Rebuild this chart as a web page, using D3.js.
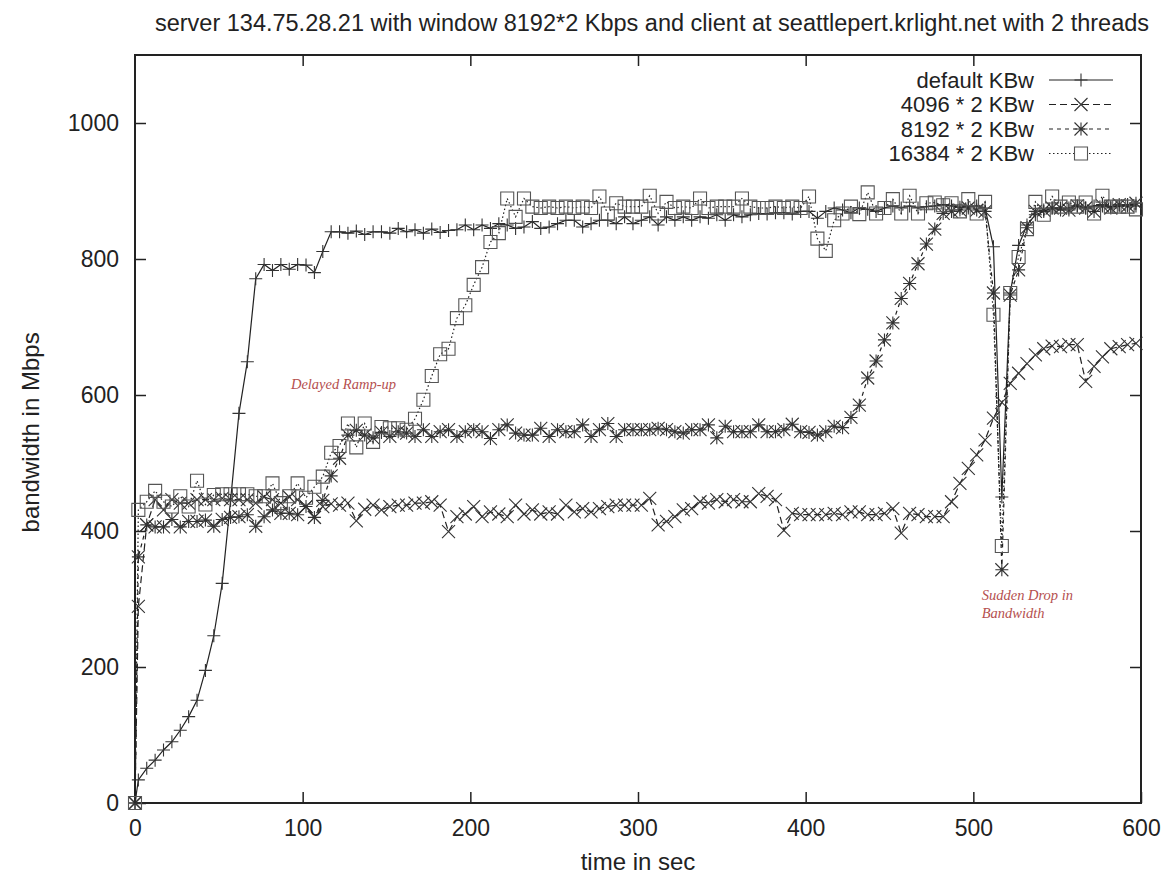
<!DOCTYPE html>
<html>
<head>
<meta charset="utf-8">
<script src="https://cdn.jsdelivr.net/npm/d3@7"></script>
<style>
  body { margin: 0; background: #fff; }
  svg { display: block; font-family: "Liberation Sans", Arial, sans-serif; }
</style>
</head>
<body>
<div id="chart"></div>
<script>
const width = 1174, height = 876;
const margins = { top: 55, right: 33, bottom: 73, left: 135 };

// sample times (sec)
const times = [0,
  2, 7, 12, 17, 22, 27, 32, 37, 42, 47,
  52, 57, 62, 67, 72, 77, 82, 87, 92, 97,
  102, 107, 112, 117, 122, 127, 132, 137, 142, 147,
  152, 157, 162, 167, 172, 177, 182, 187, 192, 197,
  202, 207, 212, 217, 222, 227, 232, 237, 242, 247,
  252, 257, 262, 267, 272, 277, 282, 287, 292, 297,
  302, 307, 312, 317, 322, 327, 332, 337, 342, 347,
  352, 357, 362, 367, 372, 377, 382, 387, 392, 397,
  402, 407, 412, 417, 422, 427, 432, 437, 442, 447,
  452, 457, 462, 467, 472, 477, 482, 487, 492, 497,
  502, 507, 512, 517, 522, 527, 532, 537, 542, 547,
  552, 557, 562, 567, 572, 577, 582, 587, 592, 597];

const defaultKBw = [0,
  34, 51, 63, 78, 90, 107, 127, 151, 195, 246,
  323, 445, 573, 649, 771, 792, 783, 792, 785, 792,
  791, 780, 811, 840, 840, 838, 841, 836, 840, 840,
  838, 845, 840, 843, 838, 844, 839, 842, 843, 850,
  843, 850, 845, 852, 850, 845, 847, 855, 845, 847,
  852, 857, 857, 847, 852, 857, 857, 852, 862, 852,
  857, 862, 850, 862, 857, 862, 857, 862, 860, 865,
  857, 865, 862, 865, 867, 866, 868, 868, 866, 870,
  870, 860, 870, 875, 872, 868, 875, 873, 870, 875,
  878, 875, 878, 875, 877, 878, 880, 878, 876, 878,
  878, 875, 818, 450, 750, 820, 850, 865, 870, 875,
  872, 875, 878, 875, 878, 880, 877, 878, 880, 878];

const kbw4096 = [0,
  289, 409, 446, 431, 446, 441, 441, 446, 446, 446,
  448, 446, 446, 446, 441, 450, 446, 441, 450, 446,
  436, 420, 436, 440, 438, 441, 415, 432, 438, 431,
  436, 438, 438, 441, 441, 443, 438, 399, 421, 425,
  436, 421, 428, 425, 421, 438, 425, 431, 425, 428,
  425, 438, 428, 433, 428, 433, 436, 438, 438, 438,
  438, 448, 409, 414, 421, 431, 433, 443, 441, 446,
  443, 446, 443, 443, 455, 451, 446, 401, 426, 424,
  424, 424, 424, 426, 424, 428, 428, 424, 424, 426,
  433, 397, 426, 424, 421, 421, 421, 443, 470, 492,
  512, 534, 566, 589, 617, 632, 646, 659, 668, 672,
  671, 674, 674, 620, 642, 656, 668, 671, 674, 676];

const kbw8192 = [0,
  362, 409, 406, 406, 417, 406, 414, 414, 416, 407,
  417, 420, 421, 424, 407, 421, 431, 426, 426, 424,
  436, 420, 445, 481, 507, 541, 548, 541, 537, 545,
  539, 546, 544, 539, 549, 539, 546, 549, 539, 546,
  549, 546, 536, 549, 556, 544, 541, 541, 551, 539,
  549, 546, 546, 556, 539, 549, 558, 539, 549, 549,
  549, 549, 551, 549, 546, 544, 549, 549, 556, 537,
  554, 546, 546, 546, 556, 546, 546, 549, 557, 546,
  545, 541, 546, 554, 552, 567, 585, 625, 650, 681,
  706, 742, 764, 793, 822, 844, 867, 870, 872, 875,
  872, 870, 750, 343, 747, 784, 846, 870, 872, 875,
  875, 872, 878, 875, 870, 878, 875, 880, 878, 882];

const kbw16384 = [0,
  431, 443, 459, 443, 436, 451, 436, 474, 439, 453,
  454, 454, 454, 454, 451, 451, 470, 441, 451, 470,
  449, 465, 480, 515, 525, 558, 523, 558, 531, 553,
  551, 551, 549, 565, 593, 628, 660, 668, 713, 732,
  762, 788, 825, 838, 889, 862, 889, 877, 875, 877,
  875, 877, 875, 877, 875, 892, 867, 882, 877, 877,
  877, 893, 867, 884, 875, 877, 875, 889, 875, 877,
  877, 877, 889, 877, 875, 875, 877, 875, 877, 875,
  892, 830, 812, 857, 867, 877, 866, 898, 867, 875,
  888, 867, 893, 867, 882, 883, 879, 882, 870, 888,
  867, 884, 718, 378, 750, 803, 844, 884, 865, 892,
  877, 883, 877, 883, 867, 893, 877, 877, 877, 873];

const seriesNames = ["default KBw", "4096 * 2 KBw", "8192 * 2 KBw", "16384 * 2 KBw"];
const seriesValues = [defaultKBw, kbw4096, kbw8192, kbw16384];
const xTicks = [0, 100, 200, 300, 400, 500, 600];
const yTicks = [0, 200, 400, 600, 800, 1000];

const dashes = [null, "7,4", "4,4", "1.5,2.5"];
const shapes = ["plus", "cross", "star", "square"];

const markerPath = (shape, r) => {
  const p = `M${-r},0H${r}M0,${-r}V${r}`;
  const c = `M${-r},${-r}L${r},${r}M${-r},${r}L${r},${-r}`;
  if (shape === "plus") return p;
  if (shape === "cross") return c;
  if (shape === "star") return p + c;
  return `M${-r},${-r}H${r}V${r}H${-r}Z`;
};

const svg = d3.select("#chart")
  .append("svg")
  .attr("width", width)
  .attr("height", height);

svg.append("rect").attr("width", width).attr("height", height).attr("fill", "#fff");

const x = d3.scaleLinear().domain([0, 600]).range([margins.left, width - margins.right]);
const y = d3.scaleLinear().domain([0, 1100]).range([height - margins.bottom, margins.top]);

// title
svg.append("text")
  .attr("x", 652).attr("y", 31)
  .attr("text-anchor", "middle")
  .attr("font-size", 23.5)
  .attr("fill", "#222")
  .text("server 134.75.28.21 with window 8192*2 Kbps and client at seattlepert.krlight.net with 2 threads");

// axes (ticks drawn inward, gnuplot style)
const axisStyle = g => {
  g.select(".domain").remove();
  g.selectAll(".tick line").attr("stroke", "#222").attr("stroke-width", 1.5);
  g.selectAll(".tick text").attr("fill", "#222").attr("font-size", 23)
    .attr("font-family", "Liberation Sans, Arial, sans-serif");
};

svg.append("g")
  .attr("transform", `translate(0,${y(0)})`)
  .call(d3.axisBottom(x).tickValues(xTicks).tickSize(-11).tickPadding(17).tickFormat(d3.format("d")))
  .call(axisStyle);
svg.append("g")
  .attr("transform", `translate(0,${y(1100)})`)
  .call(d3.axisTop(x).tickValues(xTicks.slice(1, -1)).tickSize(-11).tickFormat(""))
  .call(axisStyle);
svg.append("g")
  .attr("transform", `translate(${x(0)},0)`)
  .call(d3.axisLeft(y).tickValues(yTicks).tickSize(-11).tickPadding(16).tickFormat(d3.format("d")))
  .call(axisStyle);
svg.append("g")
  .attr("transform", `translate(${x(600)},0)`)
  .call(d3.axisRight(y).tickValues(yTicks.slice(1)).tickSize(-11).tickFormat(""))
  .call(axisStyle);

// frame
svg.append("rect")
  .attr("x", x(0)).attr("y", y(1100))
  .attr("width", x(600) - x(0)).attr("height", y(0) - y(1100))
  .attr("fill", "none").attr("stroke", "#222").attr("stroke-width", 2);

// axis labels
svg.append("text")
  .attr("x", x(300)).attr("y", 870)
  .attr("text-anchor", "middle").attr("font-size", 24).attr("fill", "#222")
  .text("time in sec");
svg.append("text")
  .attr("transform", `translate(39,${y(545)}) rotate(-90)`)
  .attr("text-anchor", "middle").attr("font-size", 24).attr("fill", "#222")
  .text("bandwidth in Mbps");

// series
const line = d3.line().x(d => x(d.t)).y(d => y(d.v));
const plotG = svg.append("g");

seriesValues.forEach((vals, i) => {
  const pts = times.map((t, k) => ({ t: t, v: vals[k] }));
  plotG.append("path")
    .datum(pts)
    .attr("d", line)
    .attr("fill", "none")
    .attr("stroke", "#222")
    .attr("stroke-width", 1.2)
    .attr("stroke-dasharray", dashes[i]);
  plotG.selectAll(null)
    .data(pts)
    .join("path")
    .attr("transform", d => `translate(${x(d.t)},${y(d.v)})`)
    .attr("d", markerPath(shapes[i], 6.5))
    .attr("fill", "none")
    .attr("stroke", i === 3 ? "#555" : "#333")
    .attr("stroke-width", 1.1);
});

// legend
const legend = svg.append("g");
seriesNames.forEach((name, i) => {
  const ly = 80 + i * 24.5;
  legend.append("text")
    .attr("x", 1034).attr("y", ly)
    .attr("dy", "0.36em")
    .attr("text-anchor", "end")
    .attr("font-size", 22).attr("fill", "#222")
    .text(name);
  legend.append("line")
    .attr("x1", 1049).attr("x2", 1113).attr("y1", ly).attr("y2", ly)
    .attr("stroke", "#222").attr("stroke-width", 1.2)
    .attr("stroke-dasharray", dashes[i]);
  legend.append("path")
    .attr("transform", `translate(1081,${ly})`)
    .attr("d", markerPath(shapes[i], 6.5))
    .attr("fill", i === 3 ? "#fff" : "none")
    .attr("stroke", i === 3 ? "#555" : "#333")
    .attr("stroke-width", 1.1);
});

// annotations
const notes = svg.append("g")
  .attr("font-family", "Liberation Serif, 'DejaVu Serif', serif")
  .attr("font-style", "italic")
  .attr("font-size", 14.5)
  .attr("fill", "#b5504f");
notes.append("text").attr("x", x(93)).attr("y", y(609)).text("Delayed Ramp-up");
notes.append("text").attr("x", x(505)).attr("y", y(298)).text("Sudden Drop in");
notes.append("text").attr("x", x(505)).attr("y", y(272)).text("Bandwidth");
</script>
</body>
</html>
